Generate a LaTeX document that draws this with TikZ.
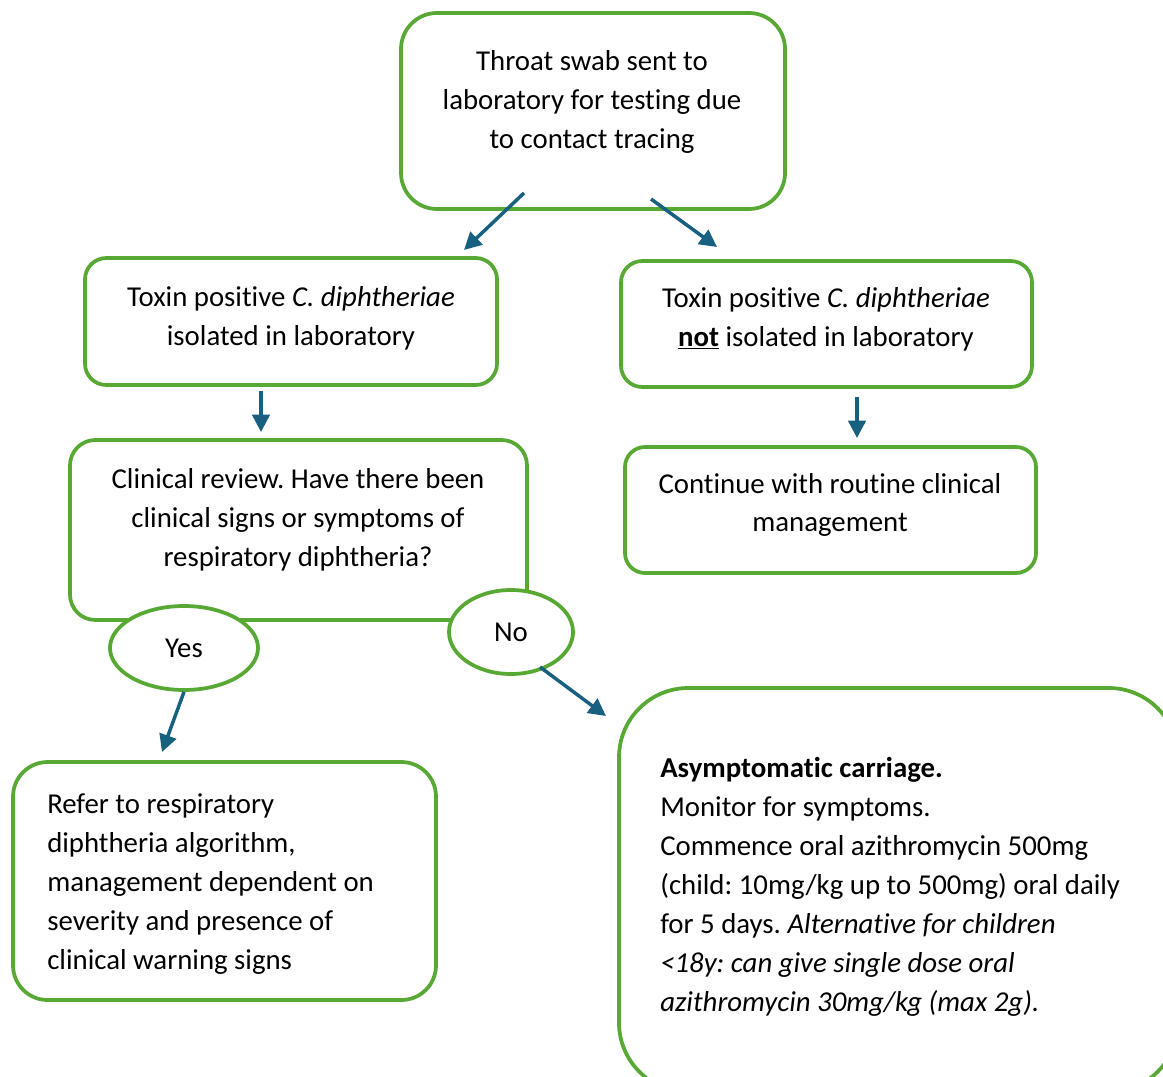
\documentclass[tikz,border=0pt]{standalone}
\usepackage{fontspec}
\setmainfont[Ligatures={NoCommon,NoRare,NoContextual}]{Carlito}
\usetikzlibrary{shapes.geometric,arrows.meta,fit}
\definecolor{boxgreen}{RGB}{88,168,52}
\definecolor{arrowblue}{RGB}{24,96,128}
\frenchspacing
\begin{document}
\begin{tikzpicture}[x=0.75pt,y=-0.75pt,
  box/.style={draw=boxgreen,line width=2.8pt,rounded corners=#1,inner sep=0pt},
  box/.default=16pt,
  txt/.style={font=\fontsize{21.6}{29.2}\selectfont,align=center,inner sep=0pt,text=black},
  ltxt/.style={font=\fontsize{21.6}{29.2}\selectfont,align=left,inner sep=0pt,anchor=west,text=black},
  oval/.style={ellipse,draw=boxgreen,line width=2.8pt,fill=white,inner sep=0pt,
    font=\fontsize{21.6}{29.2}\selectfont},
  arr/.style={draw=arrowblue,line width=2.6pt,-{Triangle[length=13pt,width=13pt]}}
]
\useasboundingbox (0,0) rectangle (1163,1077);
\clip (0,0) rectangle (1163,1077);

% boxes
\node[box=27pt,fit={(401,13) (785,209)}] (top) {};
\node[box=16pt,fit={(85,258) (497,385)}] (l1) {};
\node[box=16pt,fit={(621,261) (1032,387)}] (r1) {};
\node[box=19pt,fit={(70,440) (527,620)}] (l2) {};
\node[box=15pt,fit={(625,447) (1036,573)}] (r2) {};
\node[box=26pt,fit={(13,762) (436,1000)}] (l3) {};
\node[box=52pt,fit={(619,688) (1178,1092)}] (r3) {};

% texts
\node[txt] (toptxt) at (592,102) {Throat swab sent to\\laboratory for testing due\\to contact tracing};
\node[txt] (l1txt) at (291,318) {Toxin positive \textit{C. diphtheriae}\\isolated in laboratory};
\node[txt] (r1txt) at (826,319) {Toxin positive \textit{C. diphtheriae}\\\underline{\textbf{not}} isolated in laboratory};
\node[txt] (l2txt) at (298,520) {Clinical review. Have there been\\clinical signs or symptoms of\\respiratory diphtheria?};
\node[txt] (r2txt) at (830,505) {Continue with routine clinical\\management};
\node[ltxt] (l3txt) at (47,884) {Refer to respiratory\\diphtheria algorithm,\\management dependent on\\severity and presence of\\clinical warning signs};
\node[ltxt] (r3txt) at (660,887) {\textbf{Asymptomatic carriage.}\\Monitor for symptoms.\\Commence oral azithromycin 500mg\\(child: 10mg/kg up to 500mg) oral daily\\for 5 days. \textit{Alternative for children}\\\textit{<18y: can give single dose oral}\\\textit{azithromycin 30mg/kg (max 2g).}};

% ovals
\node[oval,minimum width=111pt,minimum height=63pt] (yes) at (184,648) {Yes};
\node[oval,minimum width=93pt,minimum height=63pt] (no) at (511,632) {No};

% arrow ends
\coordinate (a1s) at (524,193);
\coordinate (a1e) at (464,250);
\coordinate (a2s) at (651,199);
\coordinate (a2e) at (717,247);
\coordinate (a3s) at (261,391);
\coordinate (a3e) at (261,432);
\coordinate (a4s) at (857,397);
\coordinate (a4e) at (857,438);
\coordinate (a5e) at (162,752);
\coordinate (a6s) at (540,667);
\coordinate (a6e) at (606,716);

\draw[arr] (a1s) -- (a1e);
\draw[arr] (a2s) -- (a2e);
\draw[arr] (a3s) -- (a3e);
\draw[arr] (a4s) -- (a4e);
\draw[arr] (yes.south) -- (a5e);
\draw[arr] (a6s) -- (a6e);
\end{tikzpicture}
\end{document}
